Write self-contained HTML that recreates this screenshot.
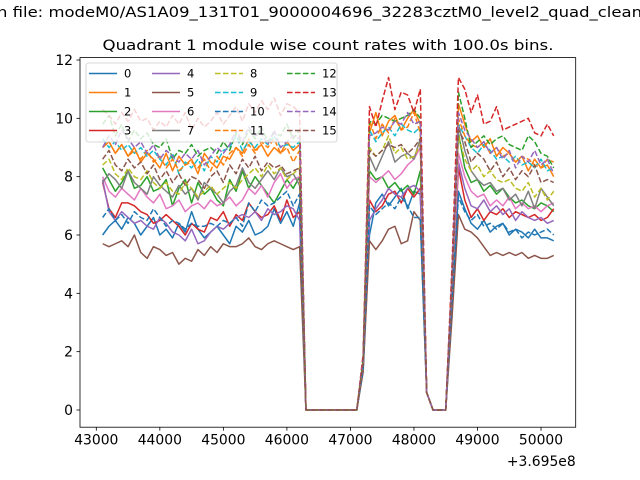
<!DOCTYPE html>
<html><head><meta charset="utf-8"><style>
html,body{margin:0;padding:0;background:#fff;}
svg{display:block;font-family:"DejaVu Sans","Liberation Sans",sans-serif;}
</style></head><body>
<svg id="chart" width="640" height="480" viewBox="0 0 640 480" xmlns="http://www.w3.org/2000/svg">
<text x="-3" y="17" font-size="14.5" fill="#000" textLength="645" lengthAdjust="spacingAndGlyphs">n file: modeM0/AS1A09_131T01_9000004696_32283cztM0_level2_quad_clean</text>
<text x="328" y="50" font-size="14.5" text-anchor="middle" fill="#000" textLength="451" lengthAdjust="spacingAndGlyphs">Quadrant 1 module wise count rates with 100.0s bins.</text>
<g id="plot"></g>
<g id="axes"></g>
<g id="legend"></g>
</svg>
<script>
const seg1 = [
[6.0,6.3,6.5,6.2,6.6,6.4,6.0,6.3,6.6,6.0,6.2,5.9,6.4,6.1,6.8,6.2,5.9,6.1,6.3,6.0,5.7,6.3,6.1,6.5,6.0,6.1,6.3,6.9,6.4,6.8,6.3,7.1],
[9.0,9.2,8.8,9.1,8.7,9.0,8.5,8.8,8.6,8.3,8.8,8.2,8.7,8.4,8.6,8.1,8.8,8.5,8.3,8.7,8.6,9.0,8.8,9.3,8.9,9.1,8.7,9.0,8.8,9.2,8.9,9.1],
[8.3,7.9,7.5,7.8,8.2,7.6,7.7,8.0,7.5,7.6,7.9,7.0,7.6,7.9,7.1,7.8,7.4,7.6,7.2,7.0,7.9,7.5,8.2,7.6,8.0,7.7,7.4,7.1,7.5,7.9,7.6,8.0],
[7.8,6.9,6.6,7.1,7.1,7.0,6.8,6.7,6.4,6.5,6.7,6.5,6.3,6.0,6.4,6.2,6.1,6.6,6.5,6.8,6.3,6.7,6.5,7.1,6.8,6.6,6.7,7.0,6.5,7.2,6.6,6.8],
[7.9,6.8,6.5,6.8,6.6,6.4,6.5,6.3,6.2,6.6,6.4,6.1,6.0,5.8,6.2,5.7,5.8,6.1,6.3,6.2,6.4,6.6,6.7,6.6,6.8,6.5,6.9,6.7,6.8,7.0,6.9,6.5],
[5.7,5.6,5.7,5.8,5.6,6.0,5.4,5.2,5.6,5.5,5.3,5.4,5.0,5.2,5.1,5.5,5.3,5.6,5.4,5.7,5.6,5.6,5.7,5.9,5.6,5.5,5.7,5.8,5.7,5.6,5.5,5.6],
[8.0,7.5,7.3,7.6,7.4,7.2,7.6,7.3,7.1,7.4,6.9,7.0,7.2,6.8,7.0,7.1,6.9,7.2,7.0,7.1,7.3,7.0,7.2,7.6,7.4,7.7,7.3,7.8,8.1,7.6,7.9,8.0],
[7.8,8.1,7.9,7.6,8.2,7.8,7.6,7.4,8.0,7.7,7.5,7.3,7.7,7.4,7.6,7.2,7.8,7.6,7.4,7.1,7.5,7.7,8.3,7.8,7.6,7.9,8.2,7.9,8.3,8.0,8.1,7.7],
[8.4,8.6,8.1,7.9,8.3,8.0,7.9,8.2,7.8,7.6,7.8,7.5,7.4,7.8,7.6,7.3,7.5,7.7,7.4,7.6,7.8,7.6,7.9,8.1,8.3,8.0,8.4,8.1,8.3,7.9,8.1,8.3],
[9.3,9.0,9.2,8.9,9.1,8.8,9.0,8.7,8.9,8.6,8.4,8.8,8.1,8.5,8.3,8.6,8.2,8.7,8.5,8.9,9.0,9.4,8.9,9.2,9.0,9.3,9.1,9.4,9.0,9.1,9.0,9.2],
[6.6,6.9,6.5,6.7,6.4,6.8,6.6,6.5,6.9,6.6,6.3,6.5,6.4,6.2,6.4,6.3,6.3,6.4,6.3,6.5,6.4,6.6,6.3,7.1,6.8,7.2,7.0,7.1,7.3,7.5,7.0,7.4],
[9.0,9.2,8.8,9.1,8.7,8.9,8.6,8.9,8.5,8.7,8.3,8.6,8.2,8.4,8.5,8.3,8.6,8.2,8.7,8.4,8.8,9.0,8.7,9.1,8.8,9.2,9.0,9.3,8.8,9.0,8.5,8.9],
[9.8,10.1,9.4,9.8,9.2,9.6,9.3,9.5,9.1,9.0,9.3,8.6,8.9,8.8,9.1,8.7,8.9,9.0,8.8,9.2,8.9,9.5,9.1,9.6,9.3,9.7,9.2,9.5,9.4,9.8,9.3,9.6],
[10.3,10.1,9.8,10.2,9.9,10.3,9.9,10.0,9.6,9.9,9.7,10.1,9.8,10.2,9.6,10.0,9.7,9.9,10.2,9.8,10.1,10.4,9.9,10.5,10.2,10.6,10.3,10.7,10.1,10.5,10.4,10.2],
[9.0,9.4,9.1,9.6,9.3,9.0,9.2,8.8,9.1,8.6,8.9,8.7,8.5,8.8,8.6,8.9,8.4,8.7,9.0,8.8,9.1,9.6,9.2,9.7,9.4,9.5,9.1,9.6,9.0,9.2,9.4,9.3],
[8.6,8.9,8.4,8.2,8.6,8.3,8.5,8.1,8.4,7.9,8.2,7.8,8.1,7.7,8.0,7.9,7.6,8.0,8.2,7.8,8.4,8.1,8.6,8.3,8.7,8.2,8.5,8.3,8.4,8.1,8.2,8.3]
];
const seg2 = [
[6.0,7.1,7.4,7.0,7.3,7.6,6.9,7.5,7.4],
[9.5,10.2,9.4,9.9,10.1,9.6,10.0,10.3,9.8],
[8.2,7.9,8.0,7.6,7.8,7.5,7.7,7.4,8.2],
[7.2,6.8,7.0,7.4,7.5,7.1,7.6,7.3,7.6],
[6.5,6.9,7.2,7.6,7.4,7.3,7.6,7.7,7.5],
[5.8,5.5,5.8,6.2,6.3,5.7,5.8,6.8,6.5],
[8.0,7.8,8.0,8.2,7.9,8.1,8.4,8.6,9.0],
[8.7,8.2,8.7,9.2,8.5,8.7,8.8,8.6,9.3],
[9.0,8.7,8.9,9.4,8.8,9.0,8.6,8.7,9.1],
[9.6,9.2,9.5,9.7,9.4,9.8,9.6,9.5,9.7],
[7.0,6.7,6.9,7.1,6.9,7.3,7.0,6.6,6.6],
[9.9,9.3,9.8,9.5,10.0,9.6,9.7,10.2,9.5],
[9.9,9.8,10.1,10.0,9.9,10.0,10.1,10.3,10.0],
[10.4,9.7,10.6,11.4,10.3,10.9,10.8,10.2,11.0],
[9.4,9.5,9.7,9.6,9.9,9.8,10.2,9.8,9.9],
[8.9,8.7,8.9,9.1,9.0,9.1,8.8,9.0,9.3]
];
const seg3 = [
[7.5,6.9,6.4,6.2,6.5,6.1,6.3,6.4,6.0,6.2,6.1,5.9,6.2,5.9,5.9,5.8],
[10.5,9.8,9.2,9.4,9.0,9.3,8.7,9.0,8.8,8.5,8.7,8.2,8.6,8.3,8.4,8.0],
[9.5,8.3,7.8,7.9,7.5,7.7,7.4,7.6,7.3,7.1,7.2,7.0,6.9,7.1,7.0,6.8],
[8.3,7.2,6.6,6.9,6.5,6.8,6.7,6.9,6.6,6.8,6.7,6.6,6.7,6.5,6.6,6.9],
[8.5,7.6,7.0,6.9,7.2,6.8,7.0,6.7,6.9,6.5,6.8,6.6,6.5,6.6,6.4,6.5],
[6.7,6.2,6.1,5.9,5.6,5.3,5.4,5.3,5.4,5.3,5.4,5.2,5.3,5.2,5.2,5.3],
[8.8,8.0,7.5,7.3,7.4,7.0,7.2,7.0,7.3,6.9,7.1,6.9,7.0,6.8,7.0,7.1],
[9.8,8.9,8.2,7.9,7.7,7.8,7.5,7.6,7.2,7.4,7.0,7.5,6.9,7.6,7.3,7.0],
[9.4,8.6,8.2,8.4,8.0,8.2,7.9,7.8,7.9,7.6,7.5,7.8,7.3,7.6,7.2,7.5],
[9.8,9.4,9.0,8.8,9.1,8.9,8.6,8.7,8.5,8.7,8.4,8.5,8.3,8.6,8.2,8.3],
[7.3,6.8,6.5,6.7,6.3,6.4,6.2,6.4,6.1,6.2,5.9,6.1,6.0,6.1,6.2,6.0],
[10.0,9.4,9.1,9.0,9.2,8.8,9.0,8.7,8.8,8.5,8.7,8.6,8.4,8.3,8.6,8.5],
[10.9,10.0,9.0,9.2,9.4,9.1,9.3,9.4,9.1,9.0,8.9,9.4,9.2,8.8,8.7,8.3],
[11.4,11.0,10.2,10.8,9.8,9.9,10.4,9.6,9.7,9.8,9.9,10.0,9.5,9.4,9.8,9.4],
[10.2,9.6,9.3,9.0,9.2,8.8,9.0,8.6,8.9,8.3,8.7,8.5,8.9,8.4,8.6,8.1],
[9.6,9.2,8.5,8.8,8.6,8.2,8.5,8.0,8.3,7.9,8.2,8.0,8.4,7.8,7.9,7.8]
];
const rise1 = [1.4,1.6,1.5,1.5,1.4,1.3,1.6,1.6,1.7,1.7,1.4,1.7,1.8,1.9,1.7,1.6];
const drop1 = [0.6,0.6,0.6,0.6,0.6,0.6,0.6,0.6,0.6,0.6,0.6,0.6,0.6,0.6,0.6,0.6];
const rise2 = [3.6,4.6,4.3,4.0,4.0,3.2,4.2,4.4,4.4,4.6,3.8,4.6,4.8,5.0,4.6,4.4];
const gap1 = [0,0,0,0,0,0,0,0,0];
const gap2 = [0,0,0];
const tStart = 43100, tStep = 100;
const xTicks = [43000,44000,45000,46000,47000,48000,49000,50000];
const xTickLabels = ["43000","44000","45000","46000","47000","48000","49000","50000"];
const yTicks = [0,2,4,6,8,10,12];
const yTickLabels = ["0","2","4","6","8","10","12"];
const seriesNames = ["0","1","2","3","4","5","6","7","8","9","10","11","12","13","14","15"];
const colors = ["#1f77b4","#ff7f0e","#2ca02c","#d62728","#9467bd","#8c564b","#e377c2","#7f7f7f","#bcbd22","#17becf","#1f77b4","#ff7f0e","#2ca02c","#d62728","#9467bd","#8c564b"];

const NS = "http://www.w3.org/2000/svg";
const L = 80, R = 575.7, T = 57.6, B = 427.2;
function xs(t){ return 96.3 + (t - 43000) * 0.06353; }
function ys(v){ return 410 - v * (350/12); }
function mk(tag, attrs, parent){ const e = document.createElementNS(NS, tag); for (const k in attrs) e.setAttribute(k, attrs[k]); parent.appendChild(e); return e; }

const plot = document.getElementById('plot');
const axes = document.getElementById('axes');
const legend = document.getElementById('legend');

for (let s = 0; s < 16; s++) {
  const vals = [].concat(seg1[s], gap1, [rise1[s]], seg2[s], [drop1[s]], gap2, [rise2[s]], seg3[s]);
  const pts = vals.map((v,i)=> xs(tStart + i*tStep).toFixed(2) + "," + ys(v).toFixed(2)).join(" ");
  const pl = mk('polyline', {points: pts, fill: 'none', stroke: colors[s], 'stroke-width': 1.5, 'stroke-linejoin':'round'}, plot);
  if (s >= 8) pl.setAttribute('stroke-dasharray', '5.55,2.4');
  
  
}

const frame = mk('rect', {x: L, y: T, width: R-L, height: B-T, fill: 'none', stroke: '#000', 'stroke-width': 0.8}, axes);



xTicks.forEach((t,i)=>{
  const x = xs(t);
  const tk = mk('line', {x1: x, x2: x, y1: B, y2: B+3.5, stroke:'#000','stroke-width':0.8}, axes);
  
  
  const lb = mk('text', {x: x, y: B+17.5, 'font-size': 13.9, 'text-anchor':'middle', fill:'#000'}, axes);
  lb.textContent = xTickLabels[i];
  
  
});
yTicks.forEach((v,i)=>{
  const y = ys(v);
  const tk = mk('line', {x1: L-3.5, x2: L, y1: y, y2: y, stroke:'#000','stroke-width':0.8}, axes);
  
  
  const lb = mk('text', {x: L-7, y: y+5, 'font-size': 13.9, 'text-anchor':'end', fill:'#000'}, axes);
  lb.textContent = yTickLabels[i];
  
  
});
const off = mk('text', {x: R, y: 466, 'font-size': 13.9, 'text-anchor':'end', fill:'#000'}, axes);
off.textContent = "+3.695e8";



const lbox = mk('rect', {x: 86, y: 63, width: 251, height: 79, rx: 2.5, fill:'#fff', 'fill-opacity':0.8, stroke:'#cccccc', 'stroke-width':0.8}, legend);


const colX = [89, 152, 215, 287];
for (let s = 0; s < 16; s++) {
  const c = Math.floor(s/4), r = s%4;
  const y = 73.5 + r*19;
  const g = mk('g', {}, legend);
  
  
  const h = mk('line', {x1: colX[c], x2: colX[c]+28, y1: y, y2: y, stroke: colors[s], 'stroke-width':1.5}, g);
  if (s >= 8) h.setAttribute('stroke-dasharray','5.55,2.4');
  const t = mk('text', {x: colX[c]+35, y: y+4, 'font-size': 11.5, fill:'#000'}, g);
  t.textContent = seriesNames[s];
}
</script>
</body></html>
